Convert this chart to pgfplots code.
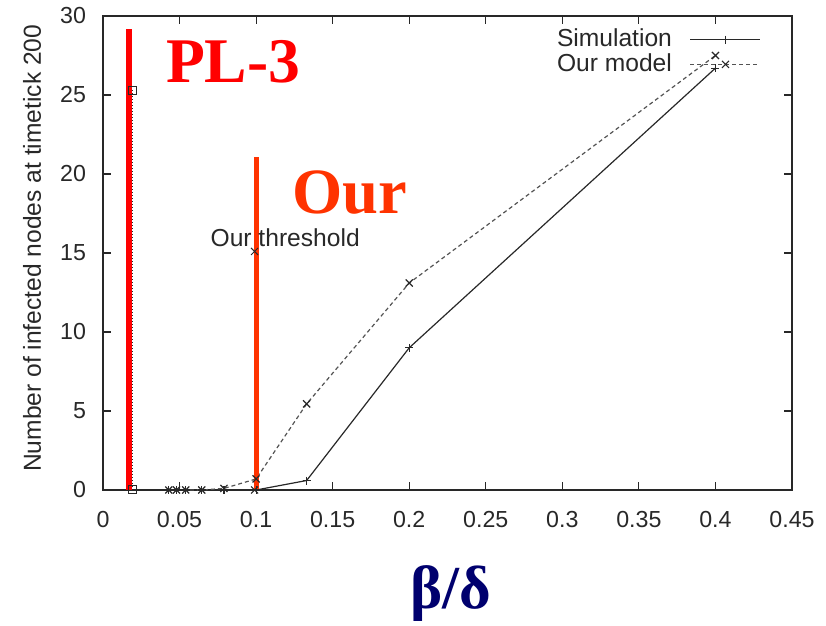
\documentclass[border=0pt]{standalone}
\usepackage{fontspec}
\setmainfont{Liberation Sans}
\newfontfamily\timesbf{Liberation Serif}[BoldFont={Liberation Serif Bold}]
\usepackage{pgfplots}
\pgfplotsset{compat=1.18}
\definecolor{plred}{RGB}{255,0,0}
\definecolor{ourred}{RGB}{255,51,0}
\definecolor{navyb}{RGB}{0,0,110}
\definecolor{gptext}{RGB}{40,40,40}
\begin{document}
\begin{tikzpicture}
\begin{axis}[
  name=ax,
  scale only axis,
  width=344.5pt, height=237pt,
  xmin=0, xmax=0.45, ymin=0, ymax=30,
  xtick={0,0.05,0.1,0.15,0.2,0.25,0.3,0.35,0.4,0.45},
  xticklabels={0,0.05,0.1,0.15,0.2,0.25,0.3,0.35,0.4,0.45},
  ytick={0,5,10,15,20,25,30},
  tick align=inside,
  major tick length=4pt,
  axis line style={line width=0.8pt, gptext},
  every tick/.style={gptext, line width=0.6pt},
  tick label style={font=\fontsize{11.6}{13}\selectfont, text=gptext},
  /pgf/number format/assume math mode=true,
  xticklabel style={yshift=-7pt},
  yticklabel style={xshift=-5pt},
  clip=false,
  legend plot pos=right,
  legend cell align=right,
  legend style={draw=none, fill=none, at={(axis cs:0.434,29.7)}, anchor=north east,
    font=\fontsize{12.3}{12}\selectfont, text=gptext, row sep=-2pt, column sep=7pt},
  legend image code/.code={\draw[mark repeat=2,mark phase=2,#1] plot coordinates {(0pt,0pt) (17.5pt,0pt) (35pt,0pt)};},
]
% hidden PL-3 threshold marker series
\addplot[gptext, densely dotted, line width=0.5pt, mark=square, mark size=2pt, mark options={solid}, forget plot]
  coordinates {(0.019,0) (0.019,25.3)};
% our threshold marker series
\addplot[gptext, dashed, line width=0.5pt, mark=x, mark size=2.5pt, mark options={solid}, forget plot]
  coordinates {(0.099,0) (0.099,15.1)};

\addplot[gptext, line width=0.6pt, mark=+, mark size=2pt]
  coordinates {(0.043,0) (0.048,0) (0.054,0) (0.0645,0) (0.079,0) (0.1,0) (0.133,0.6) (0.2,9) (0.4,26.7)};
\addlegendentry{Simulation}
\addplot[gptext!80, dash pattern=on 2pt off 1.5pt, line width=0.6pt, mark=x, mark size=2.5pt, mark options={solid, gptext}]
  coordinates {(0.043,0) (0.048,0) (0.054,0) (0.0645,0) (0.079,0.1) (0.1,0.7) (0.133,5.45) (0.2,13.1) (0.4,27.5)};
\addlegendentry{Our model}

% red threshold lines
\addplot[plred, line width=3pt, forget plot] coordinates {(0.0172,0) (0.0172,29.2)};
\addplot[ourred, line width=2.6pt, forget plot] coordinates {(0.1,0) (0.1,21.1)};

\node[text=gptext, font=\fontsize{12.3}{13}\selectfont] at (axis cs:0.119,15.95) {Our threshold};
\node[text=plred, font=\timesbf\bfseries\fontsize{31.8}{34}\selectfont] at (axis cs:0.085,27.1) {PL-3};
\node[text=ourred, font=\timesbf\bfseries\fontsize{32.3}{34}\selectfont] at (axis cs:0.161,18.8) {Our};

\node[rotate=90, text=gptext, font=\fontsize{12.3}{13}\selectfont] at (rel axis cs:-0.103,0.51) {Number of infected nodes at timetick 200};
\node[text=navyb, font=\timesbf\bfseries\fontsize{30.5}{32}\selectfont] at (rel axis cs:0.505,-0.218) {β/δ};
\end{axis}
\pgfresetboundingbox
\path[use as bounding box] (-51.5pt,-68pt) rectangle (361.5pt,245pt);
\end{tikzpicture}
\end{document}
